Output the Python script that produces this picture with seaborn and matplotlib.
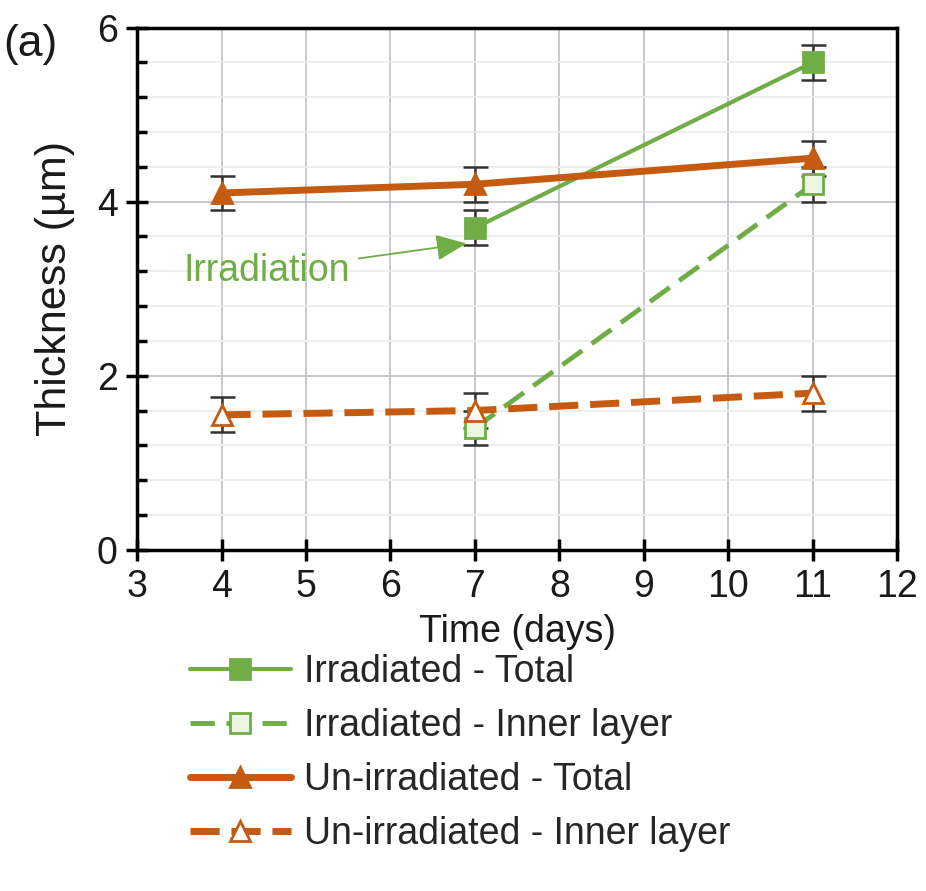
import numpy as np
import pandas as pd
import matplotlib
matplotlib.use("Agg")
import matplotlib.pyplot as plt
from matplotlib.ticker import MultipleLocator
import seaborn as sns

# ---- data ----
days_irr = [7, 11]
irr_total = [3.7, 5.6]
irr_total_err = [0.2, 0.2]
irr_inner = [1.4, 4.2]
irr_inner_err = [0.2, 0.2]

days_un = [4, 7, 11]
un_total = [4.1, 4.2, 4.5]
un_total_err = [0.2, 0.2, 0.2]
un_inner = [1.55, 1.6, 1.8]
un_inner_err = [0.2, 0.2, 0.2]

labels = ["Irradiated - Total", "Irradiated - Inner layer",
          "Un-irradiated - Total", "Un-irradiated - Inner layer"]

sns.set_theme(style="white")
plt.rcParams["font.family"] = ["Liberation Sans", "DejaVu Sans"]
FS = 27

GREEN = "#70AD47"
ORANGE = "#C55A11"
ERR = "#333333"
TXT = "#1a1a1a"

fig = plt.figure(figsize=(9.26, 8.91), dpi=100)
ax = fig.add_axes([0.148, 0.383, 0.821, 0.586])

series = [
    (days_irr, irr_total, irr_total_err, GREEN, "-", "s", GREEN, 3.0, labels[0]),
    (days_irr, irr_inner, irr_inner_err, GREEN, (0, (5, 2.4)), "s", "#EAF5E2", 3.5, labels[1]),
    (days_un, un_total, un_total_err, ORANGE, "-", "^", ORANGE, 5.0, labels[2]),
    (days_un, un_inner, un_inner_err, ORANGE, (0, (4.2, 1.7)), "^", "white", 5.0, labels[3]),
]

handles = []
for x, y, e, c, ls, mk, mfc, lw, lab in series:
    ax.errorbar(x, y, yerr=e, fmt="none", ecolor=ERR, elinewidth=1.8,
                capsize=9, capthick=1.8, zorder=3)
    df = pd.DataFrame({"x": x, "y": y})
    sns.lineplot(data=df, x="x", y="y", ax=ax, color=c, linestyle=ls, lw=lw,
                 marker=mk, markersize=14, markerfacecolor=mfc,
                 markeredgecolor=c, markeredgewidth=2, zorder=4, label=lab,
                 legend=False)
    handles.append(ax.lines[-1])

ax.set_xlim(3, 12)
ax.set_ylim(0, 6)
ax.xaxis.set_major_locator(MultipleLocator(1))
ax.yaxis.set_major_locator(MultipleLocator(2))
ax.yaxis.set_minor_locator(MultipleLocator(0.4))
ax.grid(which="major", axis="both", color="#BDBDC5", lw=1.2, zorder=0)
ax.grid(which="minor", axis="y", color="#EBEBEB", lw=1.2, zorder=0)
ax.set_axisbelow(True)
for s in ax.spines.values():
    s.set_color("black")
    s.set_linewidth(2.5)
ax.tick_params(axis="both", which="major", direction="inout", length=16,
               width=2.5, color="black", labelsize=FS, labelcolor=TXT,
               bottom=True, left=True, pad=6)
ax.tick_params(axis="y", which="minor", direction="in", length=7, width=2.5,
               left=True, color="black")
ax.set_xlabel("Time (days)", fontsize=FS, labelpad=6, color=TXT)
ax.set_ylabel("Thickness (µm)", fontsize=31, labelpad=16, color=TXT)

ax.annotate("Irradiation", xy=(6.9, 3.52), xytext=(3.55, 3.2),
            fontsize=FS, color=GREEN, va="center", ha="left",
            arrowprops=dict(arrowstyle="-|>,head_length=0.7,head_width=0.3",
                            color="#7A9A6A", lw=1.3, fc=GREEN, ec=GREEN,
                            shrinkA=4, shrinkB=0))

fig.text(0.004, 0.95, "(a)", fontsize=32, color=TXT, va="center", ha="left")

fig.legend(handles=handles, labels=labels, loc="upper left",
           bbox_to_anchor=(0.205, 0.266), frameon=False, fontsize=FS,
           handlelength=2.7, handletextpad=0.35, labelspacing=0.48,
           borderpad=0, borderaxespad=0)

fig.savefig("out.png", dpi=100)
